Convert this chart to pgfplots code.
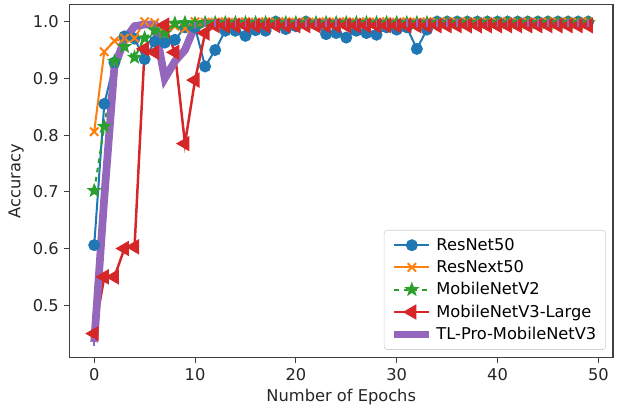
\documentclass[border=0pt]{standalone}
\usepackage{fontspec}
\setmainfont{DejaVu Sans}
\usepackage{pgfplots}
\pgfplotsset{compat=1.18}
\usetikzlibrary{plotmarks}
\definecolor{tblue}{HTML}{1F77B4}
\definecolor{torange}{HTML}{FF7F0E}
\definecolor{tgreen}{HTML}{2CA02C}
\definecolor{tred}{HTML}{D62728}
\definecolor{tpurple}{HTML}{9467BD}
\pgfdeclareplotmark{fstar}{%
  \pgfpathmoveto{\pgfpointpolar{90}{\pgfplotmarksize}}%
  \pgfpathlineto{\pgfpointpolar{126}{0.42\pgfplotmarksize}}%
  \pgfpathlineto{\pgfpointpolar{162}{\pgfplotmarksize}}%
  \pgfpathlineto{\pgfpointpolar{198}{0.42\pgfplotmarksize}}%
  \pgfpathlineto{\pgfpointpolar{234}{\pgfplotmarksize}}%
  \pgfpathlineto{\pgfpointpolar{270}{0.42\pgfplotmarksize}}%
  \pgfpathlineto{\pgfpointpolar{306}{\pgfplotmarksize}}%
  \pgfpathlineto{\pgfpointpolar{342}{0.42\pgfplotmarksize}}%
  \pgfpathlineto{\pgfpointpolar{18}{\pgfplotmarksize}}%
  \pgfpathlineto{\pgfpointpolar{54}{0.42\pgfplotmarksize}}%
  \pgfpathclose
  \pgfusepathqfillstroke}
\begin{document}
\begin{tikzpicture}
\begin{axis}[
  scale only axis,
  width=351pt, height=228pt,
  xmin=-2.45, xmax=51.45, ymin=0.407, ymax=1.0295,
  xtick={0,10,20,30,40,50},
  ytick={0.5,0.6,0.7,0.8,0.9,1.0},
  yticklabel style={/pgf/number format/.cd,fixed,fixed zerofill,precision=1},
  /pgf/number format/assume math mode=true,
  tick align=outside, major tick length=3.5pt,
  xtick pos=left, ytick pos=left,
  axis line style={black!75, line width=0.7pt},
  tick style={black!75, line width=0.7pt},
  tick label style={font=\fontsize{10.5}{12.5}\selectfont, text=black!85},
  label style={font=\fontsize{10.5}{12.5}\selectfont, text=black!85},
  xlabel={Number of Epochs}, ylabel={Accuracy},
  xlabel style={yshift=2pt},
  ylabel style={yshift=-1pt},
  legend style={at={(0.987,0.023)}, anchor=south east, draw=black!18, rounded corners=2pt,
    font=\fontsize{10.5}{12.5}\selectfont, row sep=1pt, inner xsep=4pt, inner ysep=3pt},
  legend cell align=left,
  legend image code/.code={\draw[mark repeat=2,mark phase=2,#1] plot coordinates {(0cm,0cm) (0.4cm,0cm) (0.8cm,0cm)};},
]
\addplot[color=tblue, line width=1.3pt, mark=*, mark size=3.2pt] coordinates {
(0,0.606) (1,0.855) (2,0.928) (3,0.974) (4,0.970) (5,0.934) (6,0.965) (7,0.963) (8,0.968) (9,0.990)
(10,0.990) (11,0.921) (12,0.950) (13,0.984) (14,0.984) (15,0.975) (16,0.985) (17,0.984) (18,1.000) (19,0.987)
(20,0.992) (21,1.000) (22,0.995) (23,0.978) (24,0.980) (25,0.972) (26,0.984) (27,0.980) (28,0.977) (29,0.990)
(30,0.986) (31,0.990) (32,0.952) (33,0.986) (34,1.000) (35,1.000) (36,1.000) (37,1.000) (38,1.000) (39,1.000)
(40,1.000) (41,1.000) (42,1.000) (43,1.000) (44,1.000) (45,1.000) (46,1.000) (47,1.000) (48,1.000) (49,1.000)};
\addlegendentry{ResNet50}
\addplot[color=torange, line width=1.3pt, mark=x, mark size=3.8pt] coordinates {
(0,0.806) (1,0.947) (2,0.966) (3,0.971) (4,0.971) (5,1.000) (6,0.998) (7,0.992) (8,0.992) (9,0.988)
(10,1.000) (11,0.999) (12,0.999) (13,1.000) (14,0.999) (15,1.000) (16,0.999) (17,1.000) (18,0.999) (19,1.000)
(20,0.999) (21,1.000) (22,0.999) (23,1.000) (24,0.999) (25,1.000) (26,0.999) (27,1.000) (28,0.999) (29,1.000)
(30,0.999) (31,1.000) (32,0.999) (33,1.000) (34,0.999) (35,1.000) (36,0.999) (37,1.000) (38,0.999) (39,1.000)
(40,0.999) (41,1.000) (42,0.999) (43,1.000) (44,0.999) (45,1.000) (46,0.999) (47,1.000) (48,0.999) (49,1.000)};
\addlegendentry{ResNext50}
\addplot[color=tgreen, line width=1.3pt, dashed, mark=fstar, mark size=3.3pt, mark options={solid}] coordinates {
(0,0.702) (1,0.815) (2,0.930) (3,0.956) (4,0.937) (5,0.971) (6,0.985) (7,0.980) (8,0.997) (9,0.998)
(10,0.997) (11,0.998) (12,0.998) (13,0.998) (14,0.998) (15,0.998) (16,0.998) (17,0.998) (18,0.998) (19,0.998)
(20,0.998) (21,0.998) (22,0.998) (23,0.998) (24,0.998) (25,0.998) (26,0.998) (27,0.998) (28,0.998) (29,0.998)
(30,0.998) (31,0.998) (32,0.998) (33,0.998) (34,0.998) (35,0.998) (36,0.998) (37,0.998) (38,0.998) (39,0.998)
(40,0.998) (41,0.998) (42,0.998) (43,0.998) (44,0.998) (45,0.998) (46,0.998) (47,0.998) (48,0.998) (49,0.998)};
\addlegendentry{MobileNetV2}
\addplot[color=tred, line width=1.6pt, mark=triangle*, mark size=4.2pt, mark options={rotate=90}] coordinates {
(0,0.450) (1,0.550) (2,0.550) (3,0.600) (4,0.603) (5,0.952) (6,0.946) (7,0.994) (8,0.946) (9,0.785)
(10,0.897) (11,0.980) (12,0.993) (13,0.993) (14,0.993) (15,0.993) (16,0.993) (17,0.993) (18,0.993) (19,0.993)
(20,0.993) (21,0.993) (22,0.993) (23,0.993) (24,0.993) (25,0.993) (26,0.993) (27,0.993) (28,0.993) (29,0.993)
(30,0.993) (31,0.993) (32,0.993) (33,0.993) (34,0.993) (35,0.993) (36,0.993) (37,0.993) (38,0.993) (39,0.993)
(40,0.993) (41,0.993) (42,0.993) (43,0.993) (44,0.993) (45,0.993) (46,0.993) (47,0.993) (48,0.993) (49,0.993)};
\addlegendentry{MobileNetV3-Large}
\addplot[color=tpurple, line width=5pt, mark=|, mark size=2.4pt, mark options={line width=1pt}] coordinates {
(0,0.435) (1,0.690) (2,0.920) (3,0.968) (4,0.992) (5,0.995) (6,0.995) (7,0.900) (8,0.930) (9,0.950)
(10,0.993) (11,0.998) (12,0.998) (13,0.998) (14,0.998) (15,0.998) (16,0.998) (17,0.998) (18,0.998) (19,0.998)
(20,0.998) (21,0.998) (22,0.998) (23,0.998) (24,0.998) (25,0.998) (26,0.998) (27,0.998) (28,0.998) (29,0.998)
(30,0.998) (31,0.998) (32,0.998) (33,0.998) (34,0.998) (35,0.998) (36,0.998) (37,0.998) (38,0.998) (39,0.998)
(40,0.998) (41,0.998) (42,0.998) (43,0.998) (44,0.998) (45,0.998) (46,0.998) (47,0.998) (48,0.998) (49,0.998)};
\addlegendentry{TL-Pro-MobileNetV3}
\end{axis}
\pgfresetboundingbox
\path ([xshift=-44.9pt,yshift=-34.9pt]current axis.south west) rectangle ([xshift=3.9pt,yshift=3.2pt]current axis.north east);
\end{tikzpicture}
\end{document}
